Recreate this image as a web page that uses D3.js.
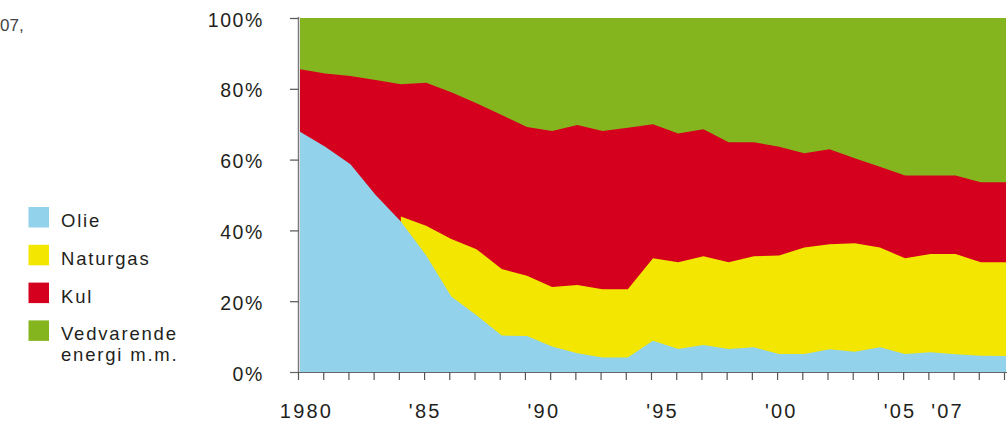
<!DOCTYPE html>
<html>
<head>
<meta charset="utf-8">
<script src="https://cdn.jsdelivr.net/npm/d3@7/dist/d3.min.js"></script>
<style>
  html, body { margin: 0; padding: 0; background: #fff; }
  svg { display: block; }
  text { font-family: "Liberation Sans", Arial, sans-serif; fill: #231f20; }
</style>
</head>
<body>
<svg id="chart" width="1008" height="421"></svg>
<script>
// ---- data ----
const years = d3.range(1980, 2009);
const olie      = [67.9,63.6,58.7,50.0,42.5,33.0,21.3,16.0,10.3,10.2,7.2,5.3,4.1,4.1,8.8,6.5,7.6,6.5,7.0,5.1,5.1,6.4,5.7,7.0,5.1,5.6,5.0,4.6,4.5];
const naturgas  = [0,0,0,0,1.4,8.3,16.3,18.7,18.8,17.0,16.8,19.3,19.3,19.3,23.3,24.5,25.1,24.5,25.7,27.8,30.1,29.7,30.7,28.2,27.0,27.7,28.3,26.4,26.5];
const kul       = [17.6,20.7,24.9,32.5,37.4,40.4,41.4,41.2,43.5,42.0,44.1,45.2,44.7,45.6,37.9,36.4,35.9,33.9,32.2,30.7,26.6,26.8,24.0,22.8,23.4,22.2,22.2,22.6,22.6];
const vedvarende= [14.5,15.7,16.4,17.5,18.7,18.3,21.0,24.1,27.4,30.8,31.9,30.2,31.9,31.0,30.0,32.6,31.4,35.1,35.1,36.4,38.2,37.1,39.6,42.0,44.5,44.5,44.5,46.4,46.4];
const seriesNames = ["Olie", "Naturgas", "Kul", "Vedvarende energi m.m."];
const seriesKeys  = ["olie", "naturgas", "kul", "vedvarende"];
const gasStartYear = 1984;
const yTickValues = [0, 20, 40, 60, 80, 100];
const xLabelYears = [1980, 1985, 1990, 1995, 2000, 2005, 2007];
const xLabelTexts = ["1980", "'85", "'90", "'95", "'00", "'05", "'07"];

// ---- styles ----
const colors = { olie: "#92d2eb", naturgas: "#f3e600", kul: "#d4001e", vedvarende: "#84b51e" };

const rows = years.map((yr, i) => ({
  year: yr, olie: olie[i], naturgas: naturgas[i], kul: kul[i], vedvarende: vedvarende[i]
}));

const svg = d3.select("#chart");
const x = d3.scaleLinear().domain([1980, 2008]).range([300, 1006]);
const y = d3.scaleLinear().domain([0, 100]).range([372, 18]);
// label positions of the reference are spaced slightly tighter than the ticks
const xLab = d3.scaleLinear().domain([1980, 2005]).range([306.5, 900]);

const stack = d3.stack().keys(seriesKeys);
const stacked = stack(rows);

// draw cumulative areas from the baseline, topmost series first
function makeArea(defFn) {
  return d3.area()
    .defined(defFn)
    .x(d => x(d.data.year))
    .y0(y(0))
    .y1(d => y(d[1]));
}
const areaAll = makeArea(() => true);
const areaGas = makeArea(d => d.data.year >= gasStartYear);

const g = svg.append("g");
stacked.slice().reverse().forEach(s => {
  const gen = s.key === "naturgas" ? areaGas : areaAll;
  g.append("path")
    .attr("d", gen(s))
    .attr("fill", colors[s.key]);
});

// ---- y axis ----
svg.append("line")
  .attr("x1", 298.5).attr("x2", 298.5)
  .attr("y1", y(100) - 1).attr("y2", y(0))
  .attr("stroke", "#7a7a7a").attr("stroke-width", 1.5);
svg.selectAll(".ytick").data(yTickValues).enter().append("line")
  .attr("x1", 290).attr("x2", 298.5)
  .attr("y1", d => y(d) + 0.5).attr("y2", d => y(d) + 0.5)
  .attr("stroke", "#555").attr("stroke-width", 1.2);
svg.selectAll(".ylab").data(yTickValues).enter().append("text")
  .attr("x", 264).attr("y", d => y(d) + 8.5)
  .attr("text-anchor", "end")
  .attr("font-size", 19.5)
  .attr("letter-spacing", 1.6)
  .text(d => d + "%");

// ---- x axis ----
svg.append("line")
  .attr("x1", 290).attr("x2", 1007)
  .attr("y1", y(0) + 0.5).attr("y2", y(0) + 0.5)
  .attr("stroke", "#666").attr("stroke-width", 1.2);
svg.selectAll(".xtick").data(years).enter().append("line")
  .attr("x1", d => x(d) - 1.5).attr("x2", d => x(d) - 1.5)
  .attr("y1", y(0)).attr("y2", y(0) + 8)
  .attr("stroke", "#555").attr("stroke-width", 1.2);
svg.selectAll(".xlab").data(xLabelYears).enter().append("text")
  .attr("x", d => xLab(d))
  .attr("y", 418)
  .attr("text-anchor", "middle")
  .attr("font-size", 20)
  .attr("letter-spacing", 2.2)
  .text((d, i) => xLabelTexts[i]);

// ---- legend ----
const legend = svg.append("g");
const legendTop = 207;
const legendStep = 37.8;
seriesKeys.forEach((k, i) => {
  const ty = legendTop + i * legendStep;
  legend.append("rect")
    .attr("x", 28.5).attr("y", ty)
    .attr("width", 20.5).attr("height", 20.5)
    .attr("fill", colors[k]);
  const t = legend.append("text")
    .attr("x", 61).attr("y", ty + 20)
    .attr("font-size", 18.5)
    .attr("letter-spacing", 1.8);
  const parts = k === "vedvarende" ? ["Vedvarende", "energi m.m."] : [seriesNames[i]];
  parts.forEach((p, j) => {
    t.append("tspan").attr("x", 61).attr("dy", j === 0 ? 0 : 21).text(p);
  });
});

// ---- fragment of a title at the top-left ----
svg.append("text")
  .attr("x", 0).attr("y", 31)
  .attr("text-anchor", "start")
  .attr("font-size", 17)
  .style("fill", "#444")
  .text("07,");
</script>
</body>
</html>
